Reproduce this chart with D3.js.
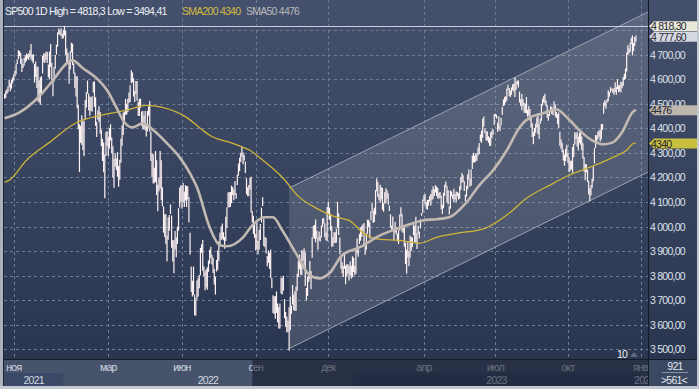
<!DOCTYPE html>
<html>
<head>
<meta charset="utf-8">
<script src="https://cdn.jsdelivr.net/npm/d3@7"></script>
<style>
body { margin: 0; background: #fff; }
svg text { font-family: "Liberation Sans", Arial, sans-serif; font-size: 10.5px; letter-spacing: -0.75px; }
</style>
</head>
<body>
<div id="chart"></div>
<script>
// daily bars, 20 Oct 2021 .. 26 Dec 2023 (index 0 = first bar)
var lows = [
  4521,4524,4540,4547,4568,4551,4562,4584,
  4595,4611,4621,4662,4681,4694,4663,4630,4646,4656,4667,4675,4685,4679,4691,4681,4672,4664,4586,4608,4565,
  4510,4505,4496,4546,4624,4670,4666,4680,4666,4608,4600,4650,4597,4531,4591,4643,4700,4733,4782,4781,4776,4765,
  4767,4778,4700,4663,4662,4582,4640,4709,4658,4624,4566,4530,4482,4396,4222,4341,4333,4311,4287,4435,
  4485,4542,4474,4451,4471,4469,4546,4488,4410,4365,4435,4426,4378,4327,4267,4221,4115,4287,4328,
  4287,4317,4351,4299,4200,4158,4245,4230,4203,4162,4191,4260,4329,4373,4422,4456,4456,4466,4503,4507,4584,4588,4530,
  4507,4540,4513,4450,4450,4484,4411,4395,4398,4392,4367,4388,4452,4386,4267,4201,4175,4176,4182,4129,
  4062,4144,4156,4107,4082,3975,3957,3928,3859,3946,3983,4051,3914,3858,3810,3907,3875,3929,3983,4078,4101,
  4073,4097,4080,4106,4080,4110,4017,3885,3733,3715,3722,3639,3637,3703,3715,3749,3801,3893,3820,3798,3741,
  3752,3743,3816,3849,3873,3845,3811,3764,3723,3817,3824,3860,3929,3945,3950,3944,3910,3941,3995,4078,
  4079,4080,4095,4128,4107,4128,4113,4169,4207,4226,4263,4284,4254,4269,4218,4132,4124,4124,4151,4057,4017,3969,3954,
  3903,3907,3886,3907,3945,4017,4084,3921,3916,3890,3838,3853,3828,3789,3749,3648,3644,3624,3648,3610,3585,
  3585,3726,3723,3739,3627,3591,3568,3572,3494,3578,3645,3683,3660,3656,3657,3739,3795,3826,3805,3802,3862,
  3842,3758,3699,3718,3775,3787,3745,3873,3955,3950,3936,3951,3906,3942,3939,3956,4000,4012,3956,3944,3940,
  4047,4027,3984,3918,3919,3933,3933,3935,3994,3966,3887,3828,3809,3795,3828,3765,3797,3808,3780,3801,3788,
  3794,3815,3802,3809,3890,3877,3929,3942,3958,3981,3925,3885,3906,3970,3997,3950,4025,4058,4015,4019,
  4049,4144,4120,4107,4097,4111,4068,4060,4095,4094,4113,4089,4063,3997,3981,3983,3943,3976,3968,
  3939,3929,3984,4041,3980,3974,3918,3847,3809,3874,3838,3873,3901,3917,3964,3936,3934,3909,3970,3951,3993,4044,4056,
  4103,4091,4072,4069,4085,4102,4086,4107,4113,4125,4139,4125,4114,4113,4117,4071,4051,4075,4126,
  4159,4098,4090,4049,4073,4123,4112,4099,4110,4099,4124,4110,4113,4149,4180,4181,4145,4103,4122,4152,4192,4163,
  4166,4235,4260,4261,4265,4268,4290,4296,4347,4341,4362,4407,4380,4351,4351,4341,4328,4329,4360,4374,4414,
  4448,4440,4385,4396,4389,4412,4455,4491,4494,4505,4514,4556,4532,4528,4537,4555,4549,4528,4556,4579,
  4567,4506,4491,4474,4491,4464,4463,4461,4447,4453,4432,4403,4365,4335,4369,4382,4404,4376,4357,4418,4431,4493,4505,
  4501,4490,4443,4431,4451,4469,4458,4455,4478,4448,4442,4417,4402,4329,4317,4303,4269,4248,4267,4283,
  4260,4221,4227,4232,4219,4283,4334,4357,4326,4310,4340,4333,4311,4276,4223,4189,4221,4182,4131,4103,4127,4158,
  4184,4257,4320,4346,4356,4366,4346,4356,4394,4460,4491,4480,4505,4511,4529,4546,4554,4545,4537,4548,4537,
  4560,4547,4551,4546,4564,4574,4597,4602,4632,4700,4704,4711,4744,4697,4715,4736,4753
]
var highs = [
  4540,4552,4559,4572,4598,4584,4597,4608,
  4621,4636,4664,4681,4719,4715,4708,4685,4663,4688,4698,4705,4701,4706,4718,4744,4701,4702,4662,4672,4650,
  4652,4596,4608,4612,4695,4705,4705,4713,4711,4660,4713,4744,4667,4592,4650,4699,4741,4791,4807,4799,4808,4787,
  4802,4818,4798,4725,4708,4673,4714,4749,4745,4665,4628,4612,4612,4495,4417,4411,4454,4429,4432,4516,
  4547,4595,4542,4530,4526,4531,4590,4591,4527,4427,4473,4490,4467,4394,4357,4342,4294,4385,4389,
  4366,4401,4417,4363,4327,4276,4299,4278,4303,4247,4272,4358,4412,4465,4468,4520,4500,4521,4546,4576,4637,4628,4604,
  4552,4593,4593,4508,4521,4521,4469,4471,4453,4471,4410,4471,4489,4512,4386,4299,4295,4240,4308,4270,
  4170,4200,4308,4270,4160,4082,4050,4050,3964,4038,4047,4090,4045,3945,3944,3982,3955,3999,4075,4159,4168,
  4166,4178,4143,4169,4165,4164,4120,3975,3837,3779,3837,3723,3707,3780,3792,3803,3913,3928,3945,3838,3818,
  3826,3834,3862,3906,3918,3885,3873,3828,3796,3864,3903,3940,3975,4000,4013,3977,3958,4040,4079,4140,
  4140,4141,4167,4161,4151,4186,4137,4211,4257,4281,4301,4325,4302,4292,4265,4197,4160,4169,4200,4203,4062,4044,4015,
  3970,4018,3942,3987,4010,4077,4119,4032,3957,3954,3880,3902,3894,3907,3790,3720,3716,3717,3736,3687,3672,
  3687,3793,3790,3800,3705,3652,3634,3616,3671,3714,3678,3762,3722,3736,3755,3808,3862,3886,3859,3905,3901,
  3912,3894,3750,3796,3809,3860,3819,3957,4003,4007,4029,3984,3955,3980,3962,4004,4033,4034,4014,3976,4080,
  4101,4077,4052,4002,3957,3977,3977,3991,4101,4053,3955,3885,3855,3839,3889,3841,3846,3846,3840,3858,3840,
  3879,3873,3840,3906,3951,3920,3970,3996,4002,4009,4015,3921,3973,4028,4028,4020,4061,4095,4064,4077,
  4149,4196,4183,4133,4170,4161,4157,4095,4140,4156,4148,4136,4086,4050,4004,4041,3983,4019,3998,
  3971,3985,4049,4079,4051,3994,4006,3934,3906,3937,3899,3964,3958,3956,4009,4003,4040,3973,4003,3980,4030,4055,4110,
  4128,4133,4100,4108,4110,4125,4133,4150,4164,4152,4169,4163,4158,4138,4141,4127,4089,4138,4170,
  4184,4165,4149,4083,4147,4143,4130,4154,4133,4143,4141,4135,4164,4202,4218,4209,4185,4131,4166,4213,4232,4195,
  4232,4290,4300,4289,4299,4298,4322,4340,4375,4391,4439,4448,4400,4387,4388,4368,4362,4384,4390,4398,4459,
  4460,4456,4423,4449,4412,4443,4488,4518,4528,4532,4562,4578,4565,4555,4567,4580,4582,4607,4590,4595,
  4595,4550,4519,4540,4520,4504,4500,4528,4476,4490,4479,4449,4421,4386,4402,4419,4444,4462,4418,4440,4500,4521,4532,
  4541,4514,4496,4458,4474,4490,4488,4473,4511,4497,4467,4458,4465,4386,4356,4341,4313,4293,4317,4333,
  4300,4281,4268,4268,4324,4337,4385,4378,4386,4367,4383,4393,4367,4339,4283,4255,4254,4231,4187,4156,4169,4195,
  4246,4320,4373,4372,4386,4391,4394,4418,4418,4504,4515,4511,4520,4555,4548,4568,4561,4562,4564,4588,4570,
  4600,4575,4578,4590,4590,4609,4623,4644,4709,4739,4725,4749,4769,4779,4748,4772,4778
]

// moving averages: [bar index, value]
var sma50 = [
  [0,4441],[13,4465],[31,4535],[42,4596],[54,4665],[59,4677],[68,4645],[80,4604],[89,4555],[97,4486],
  [104,4425],[111,4404],[120,4421],[129,4393],[141,4339],[152,4282],[161,4217],[167,4160],[178,3997],
  [187,3924],[193,3920],[207,3956],[215,4005],[226,4038],[233,4038],[241,3985],[253,3891],[265,3801],
  [273,3789],[282,3810],[293,3883],[308,3915],[326,3964],[337,3985],[349,4005],[363,4025],[375,4030],
  [386,4038],[401,4099],[412,4168],[424,4229],[436,4311],[447,4404],[456,4445],[467,4461],[479,4478],
  [488,4445],[499,4392],[510,4351],[519,4335],[528,4343],[536,4384],[545,4465],[548,4476]
]
var sma200 = [
  [0,4180],[5,4192],[19,4270],[39,4343],[63,4425],[83,4453],[106,4474],[123,4494],[137,4486],[158,4445],
  [172,4392],[178,4372],[198,4339],[207,4323],[213,4311],[221,4282],[241,4201],[256,4119],[271,4074],
  [288,4038],[299,4025],[314,3964],[326,3948],[343,3944],[360,3932],[375,3956],[392,3972],[417,3993],
  [438,4054],[453,4115],[473,4168],[490,4209],[510,4245],[528,4282],[540,4311],[546,4339],[548,4340]
]

var channel = [
  { i: 247, lower: 3503, upper: 4157 },
  { i: 558.5, lower: 4222, upper: 4874 }
]

var monthTicks = [
  { i: 8, label: 'ноя' }, { i: 90, label: 'мар' }, { i: 154, label: 'июн' },
  { i: 218, label: 'сен' }, { i: 281, label: 'дек' }, { i: 364, label: 'апр' },
  { i: 426, label: 'июл' }, { i: 489, label: 'окт' }, { i: 552, label: 'янв' }
]
var yearSpans = [
  { label: '2021', from: -0.5, to: 51 }, { label: '2022', from: 51, to: 302 },
  { label: '2023', from: 302, to: 552 }, { label: '2024', from: 552, to: 800 }
]
var priceTicks = [3500, 3600, 3700, 3800, 3900, 4000, 4100, 4200, 4300, 4400, 4500, 4600, 4700, 4800]
var priceLabels = [3500, 3600, 3700, 3800, 3900, 4000, 4100, 4200, 4300, 4400, 4500, 4600, 4700]

var highValue = 4818.3, lowValue = 3494.41, lastValue = 4777.6
var sma200Last = 4340, sma50Last = 4476
var dimFrom = 215
var barsTotal = 921, barsVisible = 561, markerCount = 10

var W = 699, H = 389
var plot = { left: 4, right: 648, top: 0, bottom: 359 }

var priceFmt = d3.formatLocale({ decimal: ',', thousands: '\u00a0', grouping: [3], currency: ['', ''] }).format(',.2f')
function comma(v) { return String(v).replace('.', ',') }

var svg = d3.select('#chart').append('svg')
    .attr('width', W)
    .attr('height', H)

var defs = svg.append('defs')
var grad = defs.append('linearGradient').attr('id', 'bg')
    .attr('x1', 0).attr('y1', 0).attr('x2', 0).attr('y2', 1)
grad.append('stop').attr('offset', '0%').attr('stop-color', '#45516c')
grad.append('stop').attr('offset', '100%').attr('stop-color', '#2a3650')

defs.append('clipPath').attr('id', 'plotClip').append('rect')
    .attr('x', plot.left).attr('y', 0)
    .attr('width', plot.right - plot.left).attr('height', plot.bottom)
defs.append('clipPath').attr('id', 'axisClip').append('rect')
    .attr('x', plot.left).attr('y', plot.bottom)
    .attr('width', plot.right - plot.left).attr('height', H - plot.bottom)

var x = d3.scaleLinear().domain([-0.5, 558.5]).range([plot.left, plot.right])
var y = d3.scaleLinear().domain([3500, 4800]).range([349.3, 30.2])

svg.append('rect').attr('width', W).attr('height', plot.bottom + 1).attr('fill', 'url(#bg)')

var plotG = svg.append('g').attr('clip-path', 'url(#plotClip)')

// grid
plotG.selectAll('.hgrid').data(priceTicks).enter().append('line')
    .attr('x1', plot.left).attr('x2', plot.right)
    .attr('y1', function(d){ return Math.round(y(d)) + 0.5 })
    .attr('y2', function(d){ return Math.round(y(d)) + 0.5 })
    .attr('stroke', '#6d7b95').attr('stroke-dasharray', '3,3')
plotG.selectAll('.vgrid').data(monthTicks).enter().append('line')
    .attr('x1', function(d){ return Math.round(x(d.i)) + 0.5 })
    .attr('x2', function(d){ return Math.round(x(d.i)) + 0.5 })
    .attr('y1', 0).attr('y2', plot.bottom)
    .attr('stroke', '#6d7b95').attr('stroke-dasharray', '3,3')

// channel
var c0 = channel[0], c1 = channel[1]
plotG.append('polygon')
    .attr('points', [[x(c0.i), y(c0.upper)], [x(c1.i), y(c1.upper)], [x(c1.i), y(c1.lower)], [x(c0.i), y(c0.lower)]].join(' '))
    .attr('fill', '#ffffff').attr('fill-opacity', 0.13)
;['upper', 'lower'].forEach(function(k){
    plotG.append('line')
        .attr('x1', x(c0.i)).attr('y1', y(c0[k]))
        .attr('x2', x(c1.i)).attr('y2', y(c1[k]))
        .attr('stroke', '#9aa3b4').attr('stroke-width', 1)
})

// high line
plotG.append('line')
    .attr('x1', plot.left).attr('x2', plot.right)
    .attr('y1', Math.round(y(highValue)) + 0.5).attr('y2', Math.round(y(highValue)) + 0.5)
    .attr('stroke', '#c9ced8')

// bars
plotG.append('g').selectAll('line').data(lows).enter().append('line')
    .attr('x1', function(d, i){ return x(i) })
    .attr('x2', function(d, i){ return x(i) })
    .attr('y1', function(d){ return y(d) })
    .attr('y2', function(d, i){ return y(highs[i]) })
    .attr('stroke', '#fff3f3').attr('stroke-width', 1.2)

// moving averages
var maLine = d3.line()
    .x(function(d){ return x(d[0]) })
    .y(function(d){ return y(d[1]) })
    .curve(d3.curveMonotoneX)
plotG.append('path').datum(sma200).attr('d', maLine)
    .attr('fill', 'none').attr('stroke', '#cdb43a').attr('stroke-width', 1.3)
plotG.append('path').datum(sma50).attr('d', maLine)
    .attr('fill', 'none').attr('stroke', '#c2bab2').attr('stroke-width', 2.6)

// marker count at bottom
svg.append('text').attr('x', 622).attr('y', 357.5).attr('text-anchor', 'middle')
    .attr('fill', '#f0f2f6').text(markerCount)
svg.append('path').attr('d', 'M630,357L634,352L638,357Z').attr('fill', '#5d6a82')

// time axis
var axisG = svg.append('g')
axisG.append('rect').attr('x', 0).attr('y', plot.bottom).attr('width', plot.right).attr('height', 27)
    .attr('fill', '#47536b')
var axisInner = axisG.append('g').attr('clip-path', 'url(#axisClip)')
axisInner.selectAll('.yearbox').data(yearSpans.filter(function(d, i){ return i % 2 === 0 })).enter().append('rect')
    .attr('x', function(d){ return x(d.from) })
    .attr('width', function(d){ return x(d.to) - x(d.from) })
    .attr('y', 373).attr('height', 13)
    .attr('fill', '#3a4966')
axisInner.selectAll('.month').data(monthTicks).enter().append('text')
    .attr('x', function(d){ return x(d.i) })
    .attr('y', 370.5)
    .attr('text-anchor', 'middle')
    .attr('fill', '#d3d9e3')
    .text(function(d){ return d.label })
axisInner.selectAll('.year').data(yearSpans).enter().append('text')
    .attr('x', function(d){
        var a = Math.max(x(d.from), plot.left), b = Math.min(x(d.to), plot.right)
        return (a + b) / 2
    })
    .attr('y', 383.5)
    .attr('text-anchor', 'middle')
    .attr('fill', '#d3d9e3')
    .text(function(d){ return d.label })
axisG.append('rect').attr('x', x(dimFrom)).attr('y', plot.bottom)
    .attr('width', plot.right - x(dimFrom)).attr('height', 27)
    .attr('fill', '#0e1626').attr('fill-opacity', 0.55)

// corner box
svg.append('rect').attr('x', plot.right).attr('y', plot.bottom).attr('width', W - plot.right).attr('height', 27)
    .attr('fill', '#3b4862')
svg.append('text').attr('x', 675).attr('y', 369.5).attr('text-anchor', 'middle').attr('fill', '#e3e7ee').text(barsTotal)
svg.append('line').attr('x1', 662).attr('x2', 688).attr('y1', 372.5).attr('y2', 372.5).attr('stroke', '#8790a3')
svg.append('text').attr('x', 674).attr('y', 383.5).attr('text-anchor', 'middle').attr('fill', '#e3e7ee').text('>' + barsVisible + '<')

// price axis
svg.selectAll('.plabel').data(priceLabels).enter().append('text')
    .attr('x', 650)
    .attr('y', function(d){ return y(d) + 4 })
    .attr('fill', '#dde2ea')
    .text(function(d){ return priceFmt(d) })

var badges = [
    { v: highValue, text: priceFmt(highValue), fill: '#e9e9d9' },
    { v: lastValue, text: priceFmt(lastValue), fill: '#d5d9e1' },
    { v: sma50Last, text: String(sma50Last), fill: '#bdb7ae' },
    { v: sma200Last, text: String(sma200Last), fill: '#c9bf3e' }
]
var prev = -100
badges.forEach(function(b){
    var cy = y(b.v) + 0.5
    if (cy < prev + 10.5) cy = prev + 10.5
    prev = cy
    b.cy = cy
})
var badgeG = svg.selectAll('.badge').data(badges).enter().append('g')
badgeG.append('path')
    .attr('d', function(d){
        var t = d.cy - 5, bt = d.cy + 5
        return 'M649,' + d.cy + 'L654,' + t + 'L697,' + t + 'L697,' + bt + 'L654,' + bt + 'Z'
    })
    .attr('fill', function(d){ return d.fill })
badgeG.append('text')
    .attr('x', 651)
    .attr('y', function(d){ return d.cy + 4 })
    .attr('fill', '#1e2430')
    .text(function(d){ return d.text })

// header
var header = svg.append('text').attr('x', 5).attr('y', 14.5)
header.append('tspan').attr('fill', '#eef0f4')
    .text('SP500 1D High = ' + comma(highValue) + ' Low = ' + comma(lowValue))
svg.append('text').attr('x', 182).attr('y', 14.5).attr('fill', '#d6bb3e').text('SMA200 ' + sma200Last)
svg.append('text').attr('x', 246).attr('y', 14.5).attr('fill', '#b9b9bb').text('SMA50 ' + sma50Last)

// frame
svg.append('line').attr('x1', plot.right + 0.5).attr('x2', plot.right + 0.5).attr('y1', 0).attr('y2', 386)
    .attr('stroke', '#131a28')
svg.append('line').attr('x1', 3).attr('x2', W).attr('y1', plot.bottom + 0.5).attr('y2', plot.bottom + 0.5)
    .attr('stroke', '#131a28')
svg.append('rect').attr('x', 0).attr('y', 0).attr('width', 3).attr('height', H).attr('fill', '#aab1bc')
svg.append('line').attr('x1', 3.5).attr('x2', 3.5).attr('y1', 0).attr('y2', 386).attr('stroke', '#1c2333')
svg.append('rect').attr('x', 0).attr('y', 386).attr('width', W).attr('height', 3).attr('fill', '#c4c9d1')
svg.append('rect').attr('x', 697).attr('y', 0).attr('width', 2).attr('height', H).attr('fill', '#c4c9d1')
</script>
</body>
</html>
